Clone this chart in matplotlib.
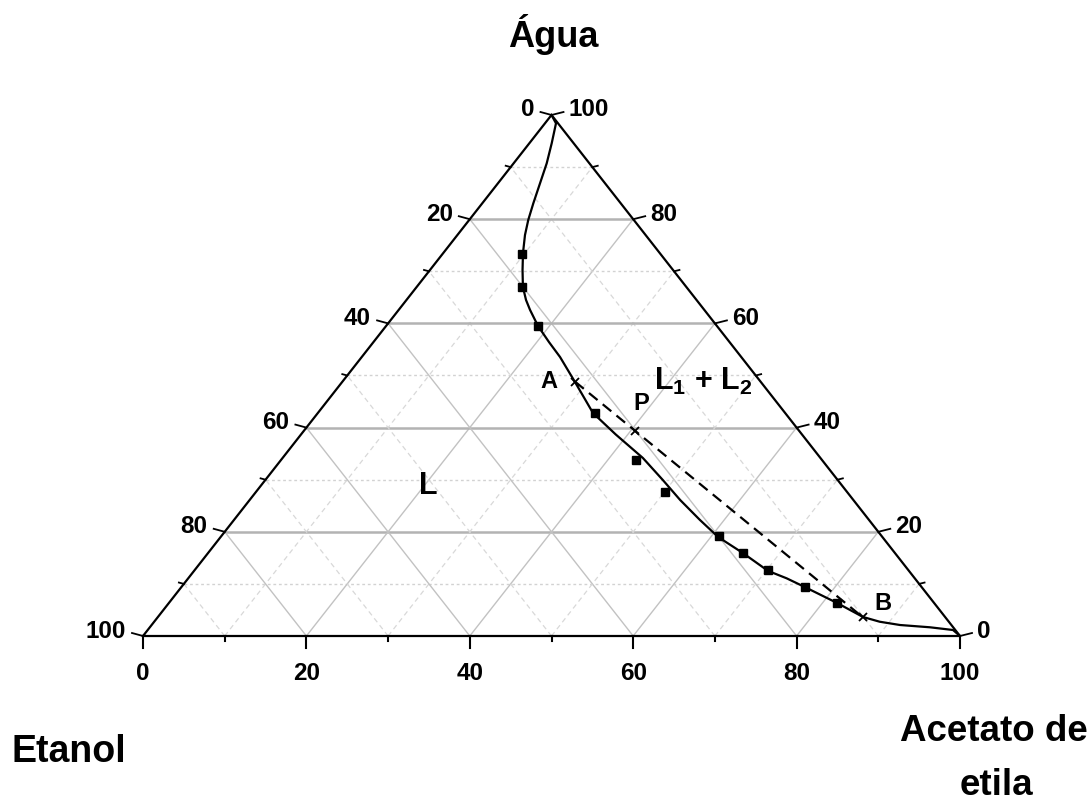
import matplotlib
matplotlib.use("Agg")
import matplotlib.pyplot as plt
import numpy as np

plt.rcParams['font.family'] = ['Liberation Sans', 'DejaVu Sans']
plt.rcParams['mathtext.fontset'] = 'custom'
plt.rcParams['mathtext.rm'] = 'Liberation Sans:bold'
plt.rcParams['mathtext.it'] = 'Liberation Sans:bold'
plt.rcParams['mathtext.bf'] = 'Liberation Sans:bold'

# ---- data (mass %) : acetato de etila, água ----
binodal_acetato = [0, 1.35, 2.74, 4.05, 5.15, 6.25, 7.23, 8.27, 9.76, 11.33, 13.0, 14.63,
                   16.07, 18.6, 21.5, 24.27, 28.5, 33.68, 38.5, 44.1, 48.7, 52.7, 57.0,
                   60.9, 65.5, 70.25, 73.25, 76.3, 81.8, 86.3, 88.8, 91.6, 95.5, 98.57, 100]
binodal_agua = [100, 98.4, 94.57, 90.73, 86.89, 83.05, 79.85, 76.97, 73.5, 70.25, 67.0, 64.5,
                62.6, 59.5, 56.4, 53.55, 48.75, 42.8, 38.7, 34.17, 29.9, 26.1, 22.3,
                19.0, 15.9, 12.5, 11.07, 9.4, 6.33, 3.65, 2.74, 2.11, 1.67, 1.15, 0]

exp_acetato = [9.7, 12.9, 18.6, 33.9, 43.5, 50.1, 61.0, 65.5, 70.2, 76.3, 81.75]
exp_agua = [73.3, 67.0, 59.5, 42.8, 33.8, 27.6, 19.1, 15.9, 12.6, 9.5, 6.3]

tie_labels = ['A', 'P', 'B']
tie_acetato = [28.5, 40.5, 86.3]
tie_agua = [48.8, 39.4, 3.6]

ticks = [0, 10, 20, 30, 40, 50, 60, 70, 80, 90, 100]
tick_labels = ['0', '20', '40', '60', '80', '100']

# ---- figure / frame geometry (pixels) ----
W, H = 1092, 805
fig = plt.figure(figsize=(W / 100, H / 100), dpi=100)
ax = fig.add_axes([0, 0, 1, 1])
ax.axis('off')

PX_L, PX_R, PX_B, PX_T = 143, 960, 636, 115
sx = (PX_R - PX_L) / 100.0
sy = (PX_B - PX_T) / 100.0
ax.set_xlim(-PX_L / sx, (W - PX_L) / sx)
ax.set_ylim(-(H - PX_B) / sy, PX_B / sy)


def cart(ac, ag):
    ac = np.asarray(ac, dtype=float)
    ag = np.asarray(ag, dtype=float)
    return ac + ag / 2.0, ag


def dpx(dx, dy):
    """pixel offset (right, up) -> data offset"""
    return dx / sx, dy / sy


# ---- grid ----
for k in range(10, 100, 10):
    major = k % 20 == 0
    # constant water
    x1, y1 = cart(0, k)
    x2, y2 = cart(100 - k, k)
    if major:
        ax.plot([x1, x2], [y1, y2], color='#b3b3b3', lw=1.8, zorder=1)
    else:
        ax.plot([x1, x2], [y1, y2], color='#d2d2d2', lw=1.0, ls=(0, (2, 2)), zorder=1)
    # constant acetate
    x1, y1 = cart(k, 0)
    x2, y2 = cart(k, 100 - k)
    # constant ethanol
    x3, y3 = cart(100 - k, 0)
    x4, y4 = cart(0, 100 - k)
    for (xa, ya, xb, yb) in [(x1, y1, x2, y2), (x3, y3, x4, y4)]:
        if major:
            ax.plot([xa, xb], [ya, yb], color='#c2c2c2', lw=1.0, zorder=1)
        else:
            ax.plot([xa, xb], [ya, yb], color='#d8d8d8', lw=0.9, ls=(0, (4, 3)), zorder=1)

# ---- triangle frame ----
tx, ty = cart([0, 100, 0, 0], [0, 0, 100, 0])
ax.plot(tx, ty, color='black', lw=1.6, zorder=3, solid_joinstyle='miter')

# ---- ticks and tick labels ----
pt = 0.72  # points per pixel at 100 dpi
lab_kw = dict(fontsize=17.5, fontweight='bold', textcoords='offset points',
              annotation_clip=False, zorder=5)
for t in ticks:
    major = t % 20 == 0
    L = 1.0 if major else 0.45
    # bottom axis: acetato de etila
    bx, by = cart(t, 0)
    ddx, ddy = dpx(0, -12 * L)
    ax.plot([bx, bx + ddx], [by, by + ddy], color='black', lw=1.5, zorder=3)
    # left axis: etanol (value t at water = 100 - t)
    lx, ly = cart(0, 100 - t)
    ddx, ddy = dpx(-11 * L, 3 * L)
    ax.plot([lx, lx + ddx], [ly, ly + ddy], color='black', lw=1.3, zorder=3)
    # right axis: água
    rx, ry = cart(100 - t, t)
    ddx, ddy = dpx(12 * L, 3 * L)
    ax.plot([rx, rx + ddx], [ry, ry + ddy], color='black', lw=1.3, zorder=3)
    if major:
        lab = tick_labels[t // 20]
        ax.annotate(lab, (bx, by), xytext=(0, -26 * pt), ha='center', va='top', **lab_kw)
        ax.annotate(lab, (lx, ly), xytext=(-17 * pt, 5 * pt), ha='right', va='center', **lab_kw)
        ax.annotate(lab, (rx, ry), xytext=(17 * pt, 5 * pt), ha='left', va='center', **lab_kw)

# ---- binodal curve, experimental points, tie line ----
bx_, by_ = cart(binodal_acetato, binodal_agua)
ax.plot(bx_, by_, color='black', lw=1.6, zorder=4, solid_joinstyle='round')

ex, ey = cart(exp_acetato, exp_agua)
ax.plot(ex, ey, ls='none', marker='s', ms=5.5, color='black', zorder=6)

tx_, ty_ = cart(tie_acetato, tie_agua)
ax.plot([tx_[0], tx_[-1]], [ty_[0], ty_[-1]], color='black', lw=1.6,
        ls=(0, (5, 3)), zorder=4)
ax.plot(tx_, ty_, ls='none', marker='x', ms=6, mew=1.3, color='black', zorder=6)

tie_offsets = [(-26, 0), (6, 27), (20, 14)]
for name, x0, y0, (ox, oy) in zip(tie_labels, tx_, ty_, tie_offsets):
    ax.annotate(name, (x0, y0), xytext=(ox * pt, oy * pt), textcoords='offset points',
                ha='center', va='center', fontsize=17, fontweight='bold', zorder=7)


# ---- region and component labels (pixel positions) ----
def ftext(x, y, s, **kw):
    fig.text(x / W, 1 - y / H, s, **kw)


ftext(428, 494, 'L', fontsize=22, fontweight='bold', ha='center', va='baseline')
ftext(654, 390, r'L$_1$ + L$_2$', fontsize=22, fontweight='bold', ha='left', va='baseline')

ftext(553, 47, 'Água', fontsize=26, fontweight='bold', ha='center', va='baseline')
ftext(69, 762, 'Etanol', fontsize=27, fontweight='bold', ha='center', va='baseline')
ftext(994, 741, 'Acetato de', fontsize=26.5, fontweight='bold', ha='center', va='baseline')
ftext(996, 795, 'etila', fontsize=26.5, fontweight='bold', ha='center', va='baseline')

fig.savefig('out.png', dpi=100)
